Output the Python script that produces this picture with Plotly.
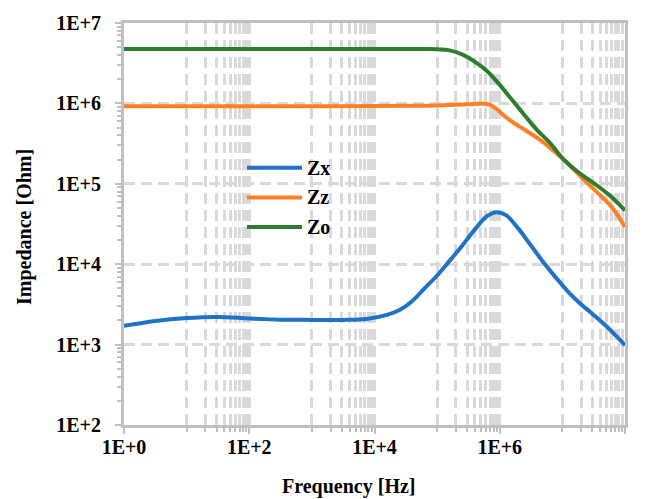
import plotly.graph_objects as go

# ---------------- data ----------------
freq_zx = [1, 3.16, 10, 31.6, 100, 316, 1000, 3160, 7940, 15800, 25100, 39800, 63100,
           100000, 158000, 251000, 398000, 631000, 891000, 1260000, 2000000, 3160000,
           5010000, 7940000, 12600000, 20000000, 31600000, 50100000, 70800000, 100000000]
zx = [1710, 1970, 2140, 2210, 2110, 2040, 2030, 2030, 2100, 2340, 2690, 3470, 5010,
      7240, 11000, 17000, 26900, 39800, 44400, 40700, 27500, 17000,
      10500, 6760, 4470, 3160, 2340, 1700, 1300, 984]

freq_zz = [1, 10, 100, 1000, 10000, 39800, 100000, 200000, 398000, 562000, 708000, 891000,
           1120000, 1580000, 2510000, 3980000, 6310000, 10000000, 15800000, 25100000,
           39800000, 63100000, 100000000]
zz = [920000, 920000, 920000, 921000, 925000, 933000, 944000, 964000, 982000, 989000,
      955000, 851000, 724000, 589000, 468000, 372000, 282000, 207000, 146000, 102000,
      72400, 50100, 29000]

freq_zo = [1, 10, 100, 1000, 10000, 39800, 63100, 100000, 158000, 251000, 398000, 631000,
           1000000, 1580000, 2510000, 3980000, 6310000, 10000000, 17800000, 31600000,
           56200000, 100000000]
zo = [4760000, 4760000, 4760000, 4760000, 4760000, 4760000, 4740000, 4700000, 4570000,
      4070000, 3310000, 2510000, 1700000, 1100000, 708000, 463000, 324000, 209000,
      140000, 102000, 72400, 46600]

series_names = ["Zx", "Zz", "Zo"]
series_colors = ["#1f72c6", "#fd7f26", "#2e7d2e"]

x_tickvals = [1, 1e2, 1e4, 1e6, 1e8]
x_ticktext = ["1E+0", "1E+2", "1E+4", "1E+6", "1E+8"]
y_tickvals = [1e2, 1e3, 1e4, 1e5, 1e6, 1e7]
y_ticktext = ["1E+2", "1E+3", "1E+4", "1E+5", "1E+6", "1E+7"]

x_title = "Frequency [Hz]"
y_title = "Impedance [Ohm]"

# minor positions (Excel style: k*10^odd decade)
x_minor = [k * 10 ** d for d in (1, 3, 5, 7) for k in range(1, 11)]
y_minor = [k * 10 ** d for d in (2, 3, 4, 5, 6) for k in range(2, 10)]

# ---------------- figure ----------------
FONT = "Liberation Serif"
GRID = "#d9d9d9"
AX = "#bfbfbf"

fig = go.Figure()
for fx, fy, name, col in zip([freq_zx, freq_zz, freq_zo], [zx, zz, zo],
                             series_names, series_colors):
    fig.add_trace(go.Scatter(x=fx, y=fy, mode="lines", name=name,
                             line=dict(color=col, width=4, shape="spline", smoothing=1.0),
                             showlegend=False))

W, H = 646, 499
L, R, T, B = 124, 21, 17, 74
pw, ph = W - L - R, H - T - B

fig.update_layout(
    width=W, height=H,
    margin=dict(l=L, r=R, t=T, b=B),
    paper_bgcolor="white", plot_bgcolor="white",
    font=dict(family=FONT, size=20, color="black", weight="bold"),
)

fig.update_xaxes(
    type="log", range=[0, 8],
    tickmode="array", tickvals=x_tickvals, ticktext=x_ticktext,
    tickfont=dict(family=FONT, size=20, color="black", weight="bold"),
    ticks="outside", ticklen=6, tickwidth=2, tickcolor=AX, ticklabelstandoff=-4,
    showline=True, linecolor=AX, linewidth=3, mirror=True,
    showgrid=True, gridcolor=GRID, gridwidth=2.5, griddash="11px,6px",
    zeroline=False,
    minor=dict(tickmode="array", tickvals=x_minor, ticks="outside", ticklen=4,
               tickwidth=2, tickcolor=AX, showgrid=True, gridcolor=GRID,
               gridwidth=2.5, griddash="11px,6px"),
)
fig.update_yaxes(
    type="log", range=[2, 7],
    tickmode="array", tickvals=y_tickvals, ticktext=y_ticktext,
    tickfont=dict(family=FONT, size=20, color="black", weight="bold"),
    ticks="outside", ticklen=6, tickwidth=2, tickcolor=AX, ticklabelstandoff=10,
    showline=True, linecolor=AX, linewidth=3, mirror=True,
    showgrid=True, gridcolor=GRID, gridwidth=2.5, griddash="11px,6px",
    zeroline=False,
    minor=dict(tickmode="array", tickvals=y_minor, ticks="outside", ticklen=4,
               tickwidth=2, tickcolor=AX, showgrid=False),
)

def px2paper(px, py):
    return (px - L) / pw, (H - B - py) / ph

annotations = []
# axis titles
ax_, ay_ = px2paper(349, 487)
annotations.append(dict(text=x_title, xref="paper", yref="paper", x=ax_, y=ay_,
                        xanchor="center", yanchor="middle", showarrow=False,
                        font=dict(family=FONT, size=20, color="black", weight="bold")))
bx_, by_ = px2paper(25, 224)
annotations.append(dict(text=y_title, xref="paper", yref="paper", x=bx_, y=by_,
                        xanchor="center", yanchor="middle", showarrow=False, textangle=-90,
                        font=dict(family=FONT, size=20, color="black", weight="bold")))

# manual legend
shapes = []
leg_y = [164, 194, 224]
for name, col, ly in zip(series_names, series_colors, leg_y):
    x0, y0 = px2paper(247, ly)
    x1, _ = px2paper(302, ly)
    shapes.append(dict(type="line", xref="paper", yref="paper", x0=x0, x1=x1, y0=y0, y1=y0,
                       line=dict(color=col, width=4)))
    tx, _ = px2paper(305, ly)
    annotations.append(dict(text=name, xref="paper", yref="paper", x=tx, y=y0,
                            xanchor="left", yanchor="middle", showarrow=False,
                            font=dict(family=FONT, size=20, color="black", weight="bold")))

fig.update_layout(annotations=annotations, shapes=shapes)

fig.write_html("out.html")
